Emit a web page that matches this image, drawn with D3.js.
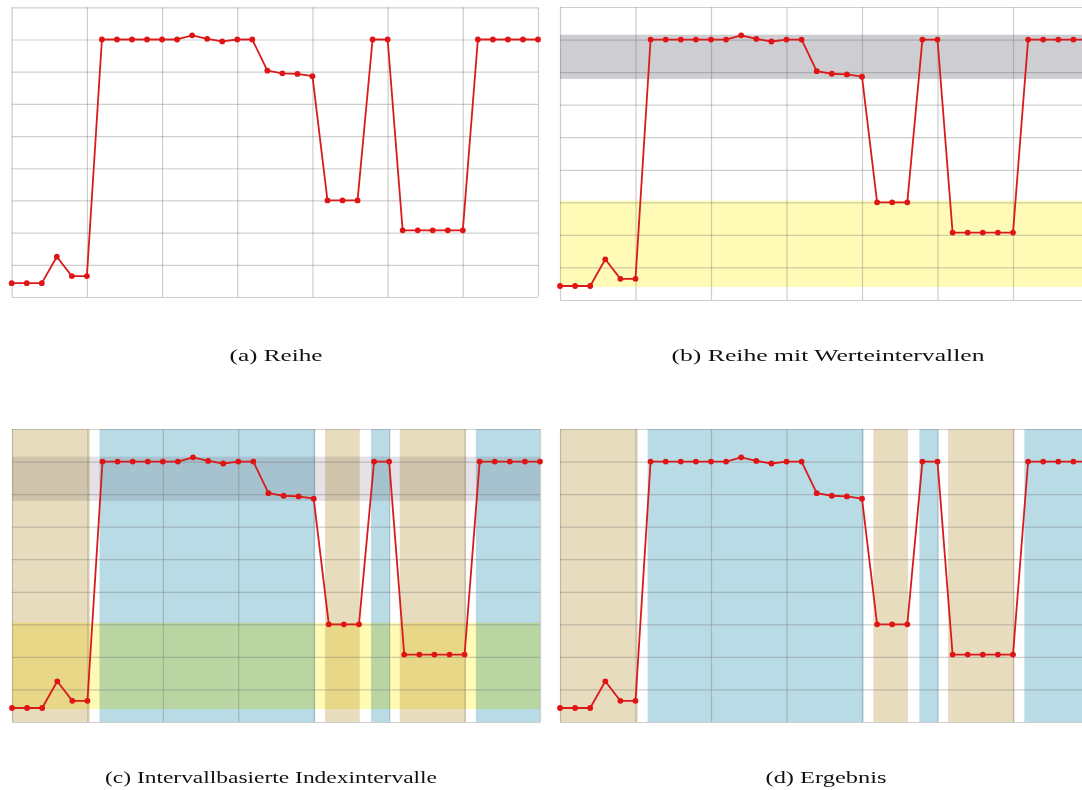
<!DOCTYPE html>
<html>
<head>
<meta charset="utf-8">
<script src="https://cdn.jsdelivr.net/npm/d3@7"></script>
<style>
  html, body { margin: 0; padding: 0; background: #fff; }
  svg { display: block; }
  .caption { font-family: "Liberation Serif", "DejaVu Serif", serif; font-size: 16px; fill: #111; }
</style>
</head>
<body>
<svg id="fig" width="1082" height="790"></svg>
<script>
// Series: one value per time index (0 … 35)
const seriesValues = [
  0.43, 0.43, 0.43, 1.25, 0.65, 0.65,
  8.0, 8.0, 8.0, 8.0, 8.0, 8.0, 8.13, 8.02, 7.94, 8.0, 8.0,
  7.03, 6.95, 6.93, 6.86,
  3.0, 3.0, 3.0,
  8.0, 8.0,
  2.07, 2.07, 2.07, 2.07, 2.07,
  8.0, 8.0, 8.0, 8.0, 8.0
];

// Value intervals (horizontal bands): upper and lower range
const valueBandLow  = [6.79, 0.40];
const valueBandHigh = [8.15, 3.05];
const valueBandKind = ["upper", "lower"];

// Index intervals derived from the value intervals
const indexBandStart = [0,    5.8,  20.75, 23.8,  25.7, 30.75];
const indexBandEnd   = [5.15, 20.1, 23.05, 25.05, 30.1, 35];
const indexBandKind  = ["lower", "upper", "lower", "upper", "lower", "upper"];

// Grid positions
const xGridTicks = [0, 5, 10, 15, 20, 25, 30, 35];
const yGridTicks = [0, 1, 2, 3, 4, 5, 6, 7, 8, 9];

const captions = [
  "(a) Reihe",
  "(b) Reihe mit Werteintervallen",
  "(c) Intervallbasierte Indexintervalle",
  "(d) Ergebnis"
];

const svg = d3.select("#fig");

const panels = [
  { x0: 11.7, x1: 538,    y0: 7.3, y1: 297, value: null,     index: false, cap: 0, cx: 276, cy: 361, cw: 93 },
  { x0: 560,  x1: 1088.5, y0: 7,   y1: 300, value: "plain",  index: false, cap: 1, cx: 828, cy: 361, cw: 313 },
  { x0: 12,   x1: 540,    y0: 429, y1: 722, value: "blend",  index: true,  cap: 2, cx: 271, cy: 783, cw: 332 },
  { x0: 560,  x1: 1088.5, y0: 429, y1: 722, value: null,     index: true,  cap: 3, cx: 826, cy: 783, cw: 121 }
];

const valueColors = {
  plain: { upper: "#cdcdd2", lower: "#fffbb6" },
  blend: { upper: "#e4e2e6", lower: "#fffab4" }
};
const indexColors = { lower: "#e8dcbe", upper: "#b9dbe5" };

panels.forEach(p => {
  const x = d3.scaleLinear().domain([0, 35]).range([p.x0, p.x1]);
  const y = d3.scaleLinear().domain([0, 9]).range([p.y1, p.y0]);
  const g = svg.append("g");

  // index interval bands (full height)
  if (p.index) {
    g.append("g").selectAll("rect")
      .data(indexBandStart.map((s, i) => ({ s, e: indexBandEnd[i], k: indexBandKind[i] })))
      .join("rect")
      .attr("x", d => x(d.s))
      .attr("width", d => x(d.e) - x(d.s))
      .attr("y", p.y0)
      .attr("height", p.y1 - p.y0)
      .attr("fill", d => indexColors[d.k]);
  }

  // value interval bands (full width)
  if (p.value) {
    g.append("g").selectAll("rect")
      .data(valueBandLow.map((lo, i) => ({ lo, hi: valueBandHigh[i], k: valueBandKind[i] })))
      .join("rect")
      .attr("x", p.x0)
      .attr("width", p.x1 - p.x0)
      .attr("y", d => y(d.hi))
      .attr("height", d => y(d.lo) - y(d.hi))
      .attr("fill", d => valueColors[p.value][d.k])
      .style("mix-blend-mode", p.value === "blend" ? "multiply" : null);
  }

  // grid lines from axes
  const gridStroke = "rgba(110,110,115,0.34)";
  const yGrid = g.append("g")
    .attr("transform", `translate(${p.x0},0)`)
    .call(d3.axisLeft(y).tickValues(yGridTicks).tickSize(-(p.x1 - p.x0)).tickFormat(""));
  const xGrid = g.append("g")
    .attr("transform", `translate(0,${p.y1})`)
    .call(d3.axisBottom(x).tickValues(xGridTicks).tickSize(-(p.y1 - p.y0)).tickFormat(""));
  [yGrid, xGrid].forEach(a => {
    a.select(".domain").remove();
    a.selectAll("line").attr("stroke", gridStroke).attr("stroke-width", 1.2);
  });

  // series line
  const line = d3.line().x((d, i) => x(i)).y(d => y(d));
  g.append("path")
    .datum(seriesValues)
    .attr("d", line)
    .attr("fill", "none")
    .attr("stroke", "#d81c1c")
    .attr("stroke-width", 1.8)
    .attr("stroke-linejoin", "round");

  g.append("g").selectAll("circle")
    .data(seriesValues)
    .join("circle")
    .attr("cx", (d, i) => x(i))
    .attr("cy", d => y(d))
    .attr("r", 2.9)
    .attr("fill", "#e01414");

  // caption
  svg.append("text")
    .attr("class", "caption")
    .attr("x", p.cx)
    .attr("y", p.cy)
    .attr("text-anchor", "middle")
    .attr("textLength", p.cw)
    .attr("lengthAdjust", "spacingAndGlyphs")
    .text(captions[p.cap]);
});
</script>
</body>
</html>
